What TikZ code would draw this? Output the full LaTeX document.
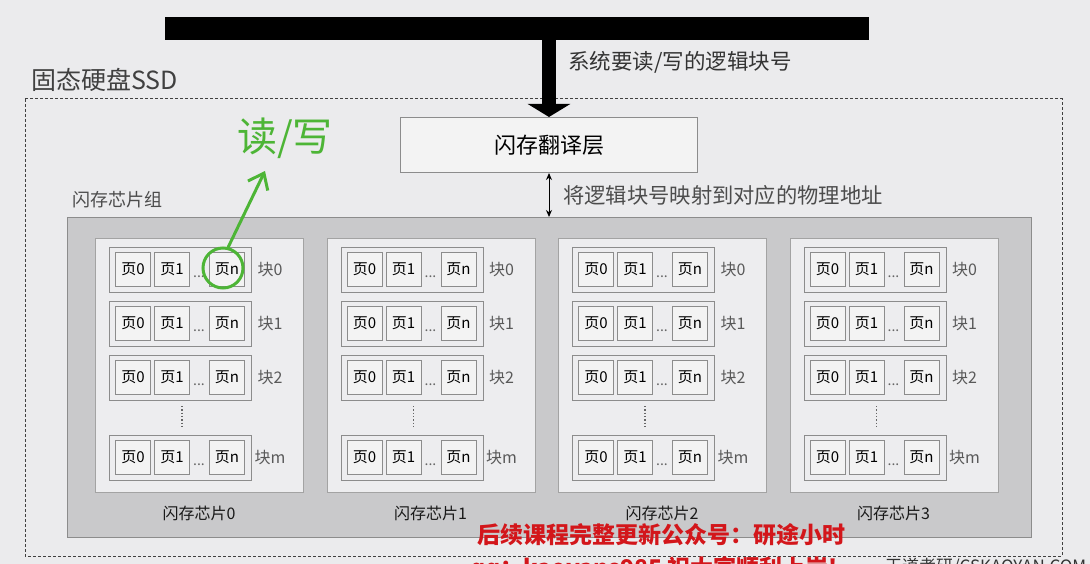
\documentclass[tikz,border=0pt]{standalone}
\usepackage{fontspec}
\setmainfont{Noto Sans CJK SC}
\usetikzlibrary{arrows.meta}
\definecolor{bgc}{HTML}{EBEBED}
\definecolor{groupc}{HTML}{C9C9CB}
\definecolor{chipc}{HTML}{EDEDEF}
\definecolor{pagec}{HTML}{F3F3F3}
\definecolor{linec}{HTML}{8C8C8C}
\definecolor{ggreen}{HTML}{4DB536}
\definecolor{promored}{HTML}{D3161B}
\newcommand{\fsz}[1]{\fontsize{#1}{#1}\selectfont}
\tikzset{
  chipbox/.style={draw=linec!80, fill=chipc, line width=1pt, inner sep=0, minimum width=208pt, minimum height=254pt, anchor=north west},
  rowbox/.style={draw=linec, fill=chipc, line width=1pt, inner sep=0, minimum width=142pt, minimum height=45pt, anchor=north west},
  pagebox/.style={draw=linec, fill=pagec, line width=1pt, inner sep=0, minimum width=35pt, minimum height=34pt, anchor=north west, font=\fsz{15}, text=black},
  blocklab/.style={font=\fsz{16}, text=black!65, inner sep=0},
  dotlab/.style={font=\fsz{14}, text=black!60, inner sep=0},
  chiplab/.style={font=\fsz{16}, text=black!90, inner sep=0},
  plainlab/.style={inner sep=0, anchor=west},
}
\begin{document}
\begin{tikzpicture}[x=1pt,y=-1pt]
\fill[bgc] (0,0) rectangle (1090,564);
\useasboundingbox (0,0) rectangle (1090,564);

% SSD dashed box
\draw[black!75, line width=1pt, dash pattern=on 3pt off 2pt] (25,99) rectangle (1062,556);
\node[plainlab, font=\fsz{25}, text=black!75] (ssdlab) at (31,80) {固态硬盘SSD};

% bus bar
\node[fill=black, inner sep=0, minimum width=704pt, minimum height=23pt, anchor=north west] (bus) at (165,17) {};

% flash translation layer
\node[draw=linec, fill=pagec, line width=1pt, inner sep=0, minimum width=297pt, minimum height=55pt, anchor=north west, font=\fsz{22}] (ftl) at (400,117) {闪存翻译层};

\draw[line width=14pt, -{Triangle[width=42pt,length=13pt]}] (bus.south -| ftl.north) -- (ftl.north);
\node[plainlab, font=\fsz{21.5}, text=black!80] (syslab) at (568,62) {系统要读/写的逻辑块号};

% chip group
\node[draw=linec, fill=groupc, line width=1pt, inner sep=0, minimum width=964pt, minimum height=320pt, anchor=north west] (group) at (67,217) {};
\node[plainlab, font=\fsz{18}, text=black!70] (grouplab) at (72,200) {闪存芯片组};

\draw[line width=1pt, {Stealth[length=7pt,width=6pt]}-{Stealth[length=7pt,width=6pt]}] (ftl.south) -- (ftl.south |- group.north);
\node[plainlab, font=\fsz{21.3}, text=black!70] (maplab) at (563,195) {将逻辑块号映射到对应的物理地址};

\foreach \c in {0,1,2,3}{
  \pgfmathsetmacro{\cx}{95+231.5*\c}
  \node[chipbox] (chip\c) at (\cx,238) {};
  \node[chiplab] (chiplab\c) at (\cx+104,513) {闪存芯片\c};
  \foreach \r/\ry/\lab in {0/247/0,1/301/1,2/355/2,3/435/m}{
    \node[rowbox] (row-\c-\r) at (\cx+14,\ry) {};
    \node[pagebox] (pg-\c-\r-a) at (\cx+20,\ry+5) {页0};
    \node[pagebox] (pg-\c-\r-b) at (\cx+59,\ry+5) {页1};
    \node[pagebox] (pg-\c-\r-n) at (\cx+114,\ry+5) {页n};
    \node[dotlab] (dots-\c-\r) at (\cx+104,\ry+30) {...};
    \node[blocklab] (blk-\c-\r) at (\cx+175,\ry+22.5) {块\lab};
  }
  \draw[black!60, line width=1.3pt, dash pattern=on 1.3pt off 2pt] (\cx+87,406) -- (\cx+87,428);
}

% green handwriting
\node[draw=ggreen, line width=3pt, circle, minimum size=40pt, inner sep=0] (mark) at (223,268) {};
\node[inner sep=0, font=\fsz{40}, text=ggreen] (rw) at (285,138) {读/写};
\coordinate (tip) at (265,171);
\draw[ggreen, line width=3pt, line cap=round, -{Straight Barb[length=14pt,width=22pt]}] (mark.76) -- (tip);

% overlay text
\node[plainlab, font=\fsz{23}\bfseries, text=promored] (promo) at (477,535) {后续课程完整更新公众号：研途小时};
\node[plainlab, font=\fsz{23}\bfseries, text=promored] (promo2) at (470,569) {qq：kaoyans985 祝大家顺利上岸!};
\node[plainlab, font=\fsz{17}, text=black!80] (wm) at (885,567) {王道考研/CSKAOYAN.COM};
\end{tikzpicture}
\end{document}
